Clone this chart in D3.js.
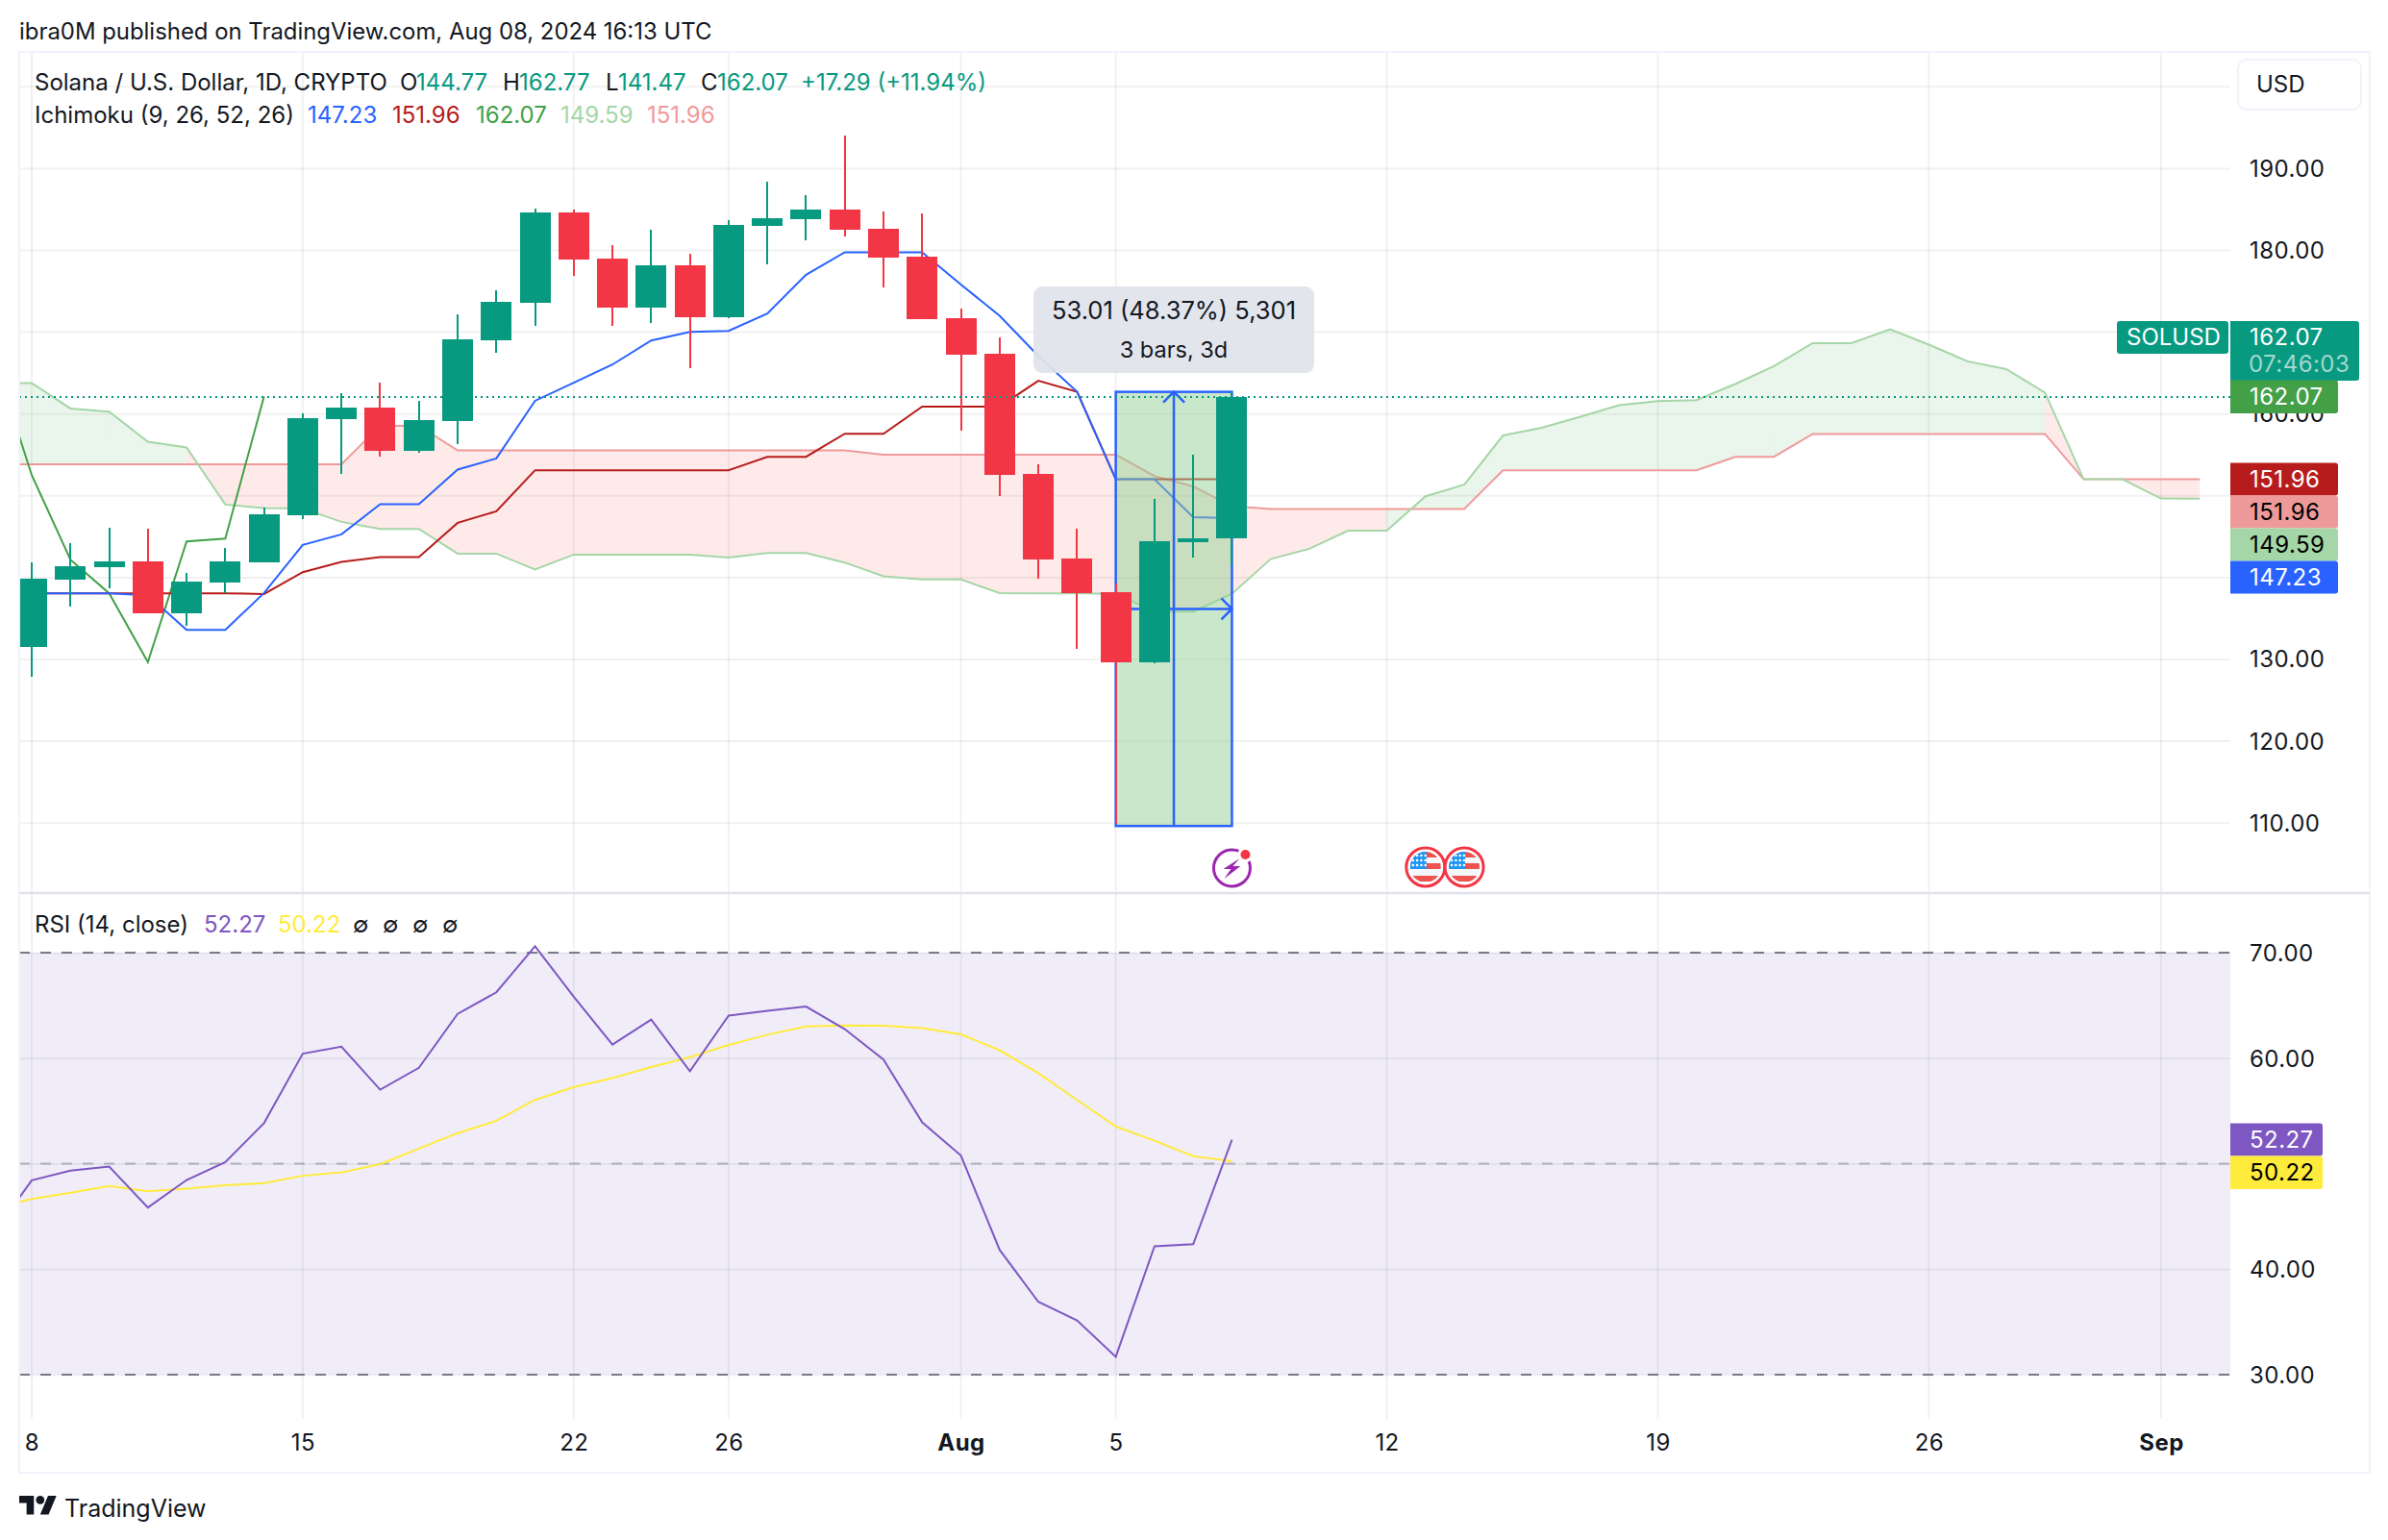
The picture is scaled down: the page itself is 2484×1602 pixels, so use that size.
<!DOCTYPE html>
<html>
<head>
<meta charset="utf-8">
<title>SOLUSD</title>
<script src="https://cdn.jsdelivr.net/npm/d3@7"></script>
<style>
  html, body { margin: 0; background: #fff; }
  text { font-family: Inter, "Noto Sans", sans-serif; fill: #131722; }
  .axis .domain { display: none; }
  .axis text { font-size: 24px; letter-spacing: 0.45px; }
</style>
</head>
<body>
<svg id="chart" width="2484" height="1602"></svg>
<script>
// days are counted from Jul 8, candles run Jul 8 .. Aug 8
const opens = [131.48,139.71,141.20,141.90,135.59,139.35,141.82,147.58,159.33,160.71,155.45,159.10,168.97,173.55,184.56,178.92,172.96,178.10,171.79,182.91,183.74,184.91,182.56,179.15,171.63,167.29,152.60,142.26,138.14,129.61,144.25,144.77];
const highs = [141.79,144.14,146.00,145.90,140.49,143.55,148.48,160.00,162.47,163.76,161.53,172.10,175.04,185.03,184.91,180.56,182.44,179.51,183.62,188.32,186.67,193.96,184.68,184.44,172.81,169.28,153.77,145.90,139.20,149.54,154.95,162.77];
const lows = [127.80,136.42,138.61,135.59,134.07,138.03,141.82,147.11,152.63,154.75,155.22,156.27,167.44,170.73,176.84,170.73,171.08,165.56,171.67,178.21,181.15,181.62,175.39,171.52,157.88,149.89,139.79,131.21,109.82,129.45,142.37,141.47];
const closes = [139.79,141.32,141.90,135.59,139.44,141.90,147.66,159.41,160.71,155.45,159.18,169.05,173.63,184.56,178.84,172.96,178.10,171.79,183.03,183.85,184.91,182.44,179.04,171.52,167.17,152.48,142.14,138.03,129.61,144.37,144.72,162.07];

const tenkan = [138.03,138.03,138.03,137.79,133.56,133.56,138.06,143.94,145.23,148.92,148.92,153.15,154.51,161.56,163.76,165.99,168.93,169.99,170.11,172.22,176.96,179.71,179.71,179.71,175.78,171.95,167.05,162.67,151.96,151.96,147.34,147.23];
const kijun = [138.03,138.03,138.03,138.03,138.03,138.03,137.94,140.61,141.87,142.46,142.46,146.64,148.05,153.07,153.07,153.07,153.07,153.07,153.07,154.71,154.71,157.53,157.53,160.86,160.86,160.86,164.00,162.67,151.96,151.96,151.96,151.96];
// lagging span, first value is Jul 7
const chikou = [167.17,152.48,142.14,138.03,129.61,144.37,144.72,162.07];
// leading spans, first value is Jul 7, last is Sep 2
const spanA = [163.76,163.73,160.62,160.24,156.56,155.85,148.87,148.45,148.40,146.76,145.90,145.90,142.88,142.88,140.93,142.76,142.76,142.76,142.76,142.41,142.96,142.96,141.79,140.11,139.71,139.71,138.06,138.03,138.03,137.97,135.79,135.79,137.97,142.21,143.47,145.69,145.69,149.89,151.30,157.32,158.27,159.61,161.02,161.53,161.65,163.61,165.79,168.61,168.61,170.31,168.43,166.38,165.44,162.56,151.96,151.96,149.61,149.59];
const spanB = [153.81,153.81,153.81,153.81,153.81,153.81,153.81,153.81,153.81,153.81,158.51,158.51,155.50,155.50,155.50,155.50,155.50,155.50,155.50,155.50,155.50,155.50,155.50,154.98,154.98,154.98,154.98,154.98,154.98,154.98,152.36,151.10,148.67,148.33,148.33,148.33,148.33,148.33,148.33,153.07,153.07,153.07,153.07,153.07,153.07,154.71,154.71,157.50,157.50,157.50,157.50,157.50,157.50,157.50,151.96,151.96,151.96,151.96];

// first value is Jul 7
const rsi = [43.30,48.42,49.33,49.73,45.84,48.45,50.14,53.84,60.43,61.09,57.01,59.08,64.20,66.24,70.60,65.83,61.28,63.66,58.77,64.04,64.48,64.89,62.75,59.87,53.91,50.77,41.83,36.90,35.15,31.69,42.17,42.36,52.27];
const rsiMa = [45.69,46.66,47.25,47.88,47.38,47.63,47.95,48.16,48.85,49.17,49.95,51.43,52.90,54.06,56.04,57.26,58.11,59.15,60.09,61.25,62.22,63.00,63.10,63.07,62.85,62.25,60.75,58.58,56.04,53.53,52.18,50.71,50.22];

const priceGrid = [110,120,130,140,150,160,170,180,190,200];
const priceLabels = [110,120,130,160,180,190];
const rsiGrid = [30,40,50,60,70];
const rsiLabels = [30,40,60,70];
const timeDays = [0,7,14,18,24,28,35,42,49,55];
const timeLabels = ["8","15","22","26","Aug","5","12","19","26","Sep"];
const flagDays = [36,37];
const earningsDay = 31;
const lastPrice = 162.07, rangeLow = 109.76, rangeHigh = 162.77;

const UP = "#089981", DOWN = "#f23645", BLUE = "#2962ff", DARKRED = "#b71c1c",
      SPAN_A = "#a5d6a7", SPAN_B = "#ef9a9a", LAG = "#43a047",
      PURPLE = "#7e57c2", YELLOW = "#ffeb3b", GRID = "#f0f3fa", INK = "#131722";
const LEFT = 20, PLOT_RIGHT = 2320, RIGHT = 2465, TOP = 54, DIVIDER = 929, PLOT_BOTTOM = 1476, BOTTOM = 1532;

const svg = d3.select("#chart");
const defs = svg.append("defs");
defs.append("clipPath").attr("id", "mainClip").append("rect")
    .attr("x", LEFT).attr("y", TOP).attr("width", PLOT_RIGHT - LEFT).attr("height", DIVIDER - TOP);
defs.append("clipPath").attr("id", "rsiClip").append("rect")
    .attr("x", LEFT).attr("y", DIVIDER).attr("width", PLOT_RIGHT - LEFT).attr("height", PLOT_BOTTOM - DIVIDER);

const x = d3.scaleLinear().domain([0, 55]).range([33, 2248]);
const y = d3.scaleLinear().domain([110, 190]).range([855.7, 174.9]);
const yRsi = d3.scaleLinear().domain([30, 70]).range([1430, 991]);

// page text
svg.append("text").attr("x", 20).attr("y", 41).style("font-size", "23.9px")
    .text("ibra0M published on TradingView.com, Aug 08, 2024 16:13 UTC");

// rsi band goes under the grid
svg.append("rect").attr("x", LEFT).attr("width", PLOT_RIGHT - LEFT)
    .attr("y", yRsi(70)).attr("height", yRsi(30) - yRsi(70)).attr("fill", "#f0edf8");

// grid
svg.append("g").attr("class", "grid")
    .attr("transform", `translate(${PLOT_RIGHT},0)`)
    .call(d3.axisLeft(y).tickValues(priceGrid).tickSize(PLOT_RIGHT - LEFT).tickFormat(""))
    .call(g => g.select(".domain").remove());
svg.append("g").attr("class", "grid")
    .attr("transform", `translate(${PLOT_RIGHT},0)`)
    .call(d3.axisLeft(yRsi).tickValues(rsiGrid).tickSize(PLOT_RIGHT - LEFT).tickFormat(""))
    .call(g => g.select(".domain").remove());
svg.append("g").attr("class", "grid")
    .selectAll("line").data(timeDays).join("line")
    .attr("x1", d => x(d)).attr("x2", d => x(d))
    .attr("y1", TOP).attr("y2", PLOT_BOTTOM);
svg.selectAll(".grid line")
    .attr("stroke", "#000").attr("stroke-opacity", 0.055).attr("stroke-width", 2);

// main pane
const main = svg.append("g").attr("clip-path", "url(#mainClip)");

const area = d3.area().x(d => x(d.day)).y0(d => y(d.a)).y1(d => y(d.b));
const cloudSegs = d3.range(1, spanA.length).map(i => [
    {day: i - 2, a: spanA[i - 1], b: spanB[i - 1]},
    {day: i - 1, a: spanA[i], b: spanB[i]}
]);
main.append("g").selectAll("path").data(cloudSegs).join("path")
    .attr("d", area)
    .attr("fill", d => d[1].a > d[1].b ? "rgba(67,160,71,0.11)" : "rgba(244,67,54,0.11)");

const line = d3.line().x(d => x(d[0])).y(d => y(d[1]));
function series(values, firstDay, color) {
    main.append("path")
        .attr("d", line(values.map((v, i) => [firstDay + i, v])))
        .attr("fill", "none").attr("stroke", color).attr("stroke-width", 2);
}
series(spanB, -1, SPAN_B);
series(spanA, -1, SPAN_A);
series(chikou, -1, LAG);
series(kijun, 0, DARKRED);
series(tenkan, 0, BLUE);

// date and price range tool
const boxL = x(28), boxR = x(31), boxT = y(rangeHigh) + 1, boxB = y(rangeLow) + 1.5;
const midX = (boxL + boxR) / 2, midY = (boxT + boxB) / 2;
const tool = main.append("g").attr("fill", "none").attr("stroke", BLUE).attr("stroke-width", 2.5);
tool.append("rect").attr("x", boxL).attr("y", boxT).attr("width", boxR - boxL).attr("height", boxB - boxT)
    .attr("fill", "rgba(147,207,149,0.5)");
tool.append("path").attr("d", `M${midX},${boxB}V${boxT}M${midX - 11},${boxT + 11}L${midX},${boxT}L${midX + 11},${boxT + 11}`);
tool.append("path").attr("d", `M${boxL},${midY}H${boxR}M${boxR - 11},${midY - 11}L${boxR},${midY}L${boxR - 11},${midY + 11}`);

// candles
const candle = main.append("g").attr("shape-rendering", "crispEdges")
    .selectAll("g").data(opens.map((o, i) => i)).join("g")
    .attr("fill", i => closes[i] >= opens[i] ? UP : DOWN);
candle.append("rect")
    .attr("x", i => Math.round(x(i)) - 1).attr("width", 2)
    .attr("y", i => y(highs[i])).attr("height", i => y(lows[i]) - y(highs[i]));
candle.append("rect")
    .attr("x", i => Math.round(x(i)) - 16).attr("width", 32)
    .attr("y", i => y(Math.max(opens[i], closes[i])))
    .attr("height", i => Math.abs(y(opens[i]) - y(closes[i])));

// last price line
main.append("line").attr("x1", LEFT).attr("x2", PLOT_RIGHT)
    .attr("y1", y(lastPrice)).attr("y2", y(lastPrice))
    .attr("shape-rendering", "crispEdges")
    .attr("stroke", UP).attr("stroke-width", 2).attr("stroke-dasharray", "2 4");

// range tool tooltip
const tip = svg.append("g");
tip.append("rect").attr("x", 1075).attr("y", 298).attr("width", 292).attr("height", 90).attr("rx", 9)
    .attr("fill", "#e0e3eb").attr("fill-opacity", 0.93);
tip.selectAll("text").data(["53.01 (48.37%) 5,301", "3 bars, 3d"]).join("text")
    .attr("x", 1221).attr("y", (d, i) => 332 + i * 40).attr("text-anchor", "middle")
    .style("font-size", (d, i) => i ? "23.5px" : "25.5px").text(d => d);

// event icons
const earn = svg.append("g").attr("transform", `translate(${x(earningsDay)},903)`);
earn.append("circle").attr("r", 19).attr("fill", "none").attr("stroke", "#9c27b0").attr("stroke-width", 3);
earn.append("path").attr("d", "M8,-10L-9,1H-1L-8,11L9,-2H1Z").attr("fill", "#9c27b0");
earn.append("circle").attr("cx", 14).attr("cy", -14).attr("r", 8).attr("fill", "#fff");
earn.append("circle").attr("cx", 14).attr("cy", -14).attr("r", 5).attr("fill", DOWN);

defs.append("clipPath").attr("id", "flagClip").append("circle").attr("r", 16);
const flag = svg.append("g").selectAll("g").data(flagDays).join("g")
    .attr("transform", d => `translate(${x(d)},902)`);
flag.append("circle").attr("r", 20).attr("fill", "#fff").attr("stroke", DOWN).attr("stroke-width", 3);
const flagInner = flag.append("g").attr("clip-path", "url(#flagClip)");
flagInner.append("rect").attr("x", -16).attr("y", -16).attr("width", 32).attr("height", 32).attr("fill", "#f5f6fa");
flagInner.selectAll(".stripe").data([-16, -4, 9]).join("rect").attr("class", "stripe")
    .attr("x", -16).attr("y", d => d).attr("width", 32).attr("height", 6).attr("fill", "#ef5350");
flagInner.append("rect").attr("x", -16).attr("y", -16).attr("width", 17).attr("height", 18).attr("fill", "#2196f3");
flagInner.selectAll(".star").data(d3.range(12)).join("circle").attr("class", "star")
    .attr("cx", i => -13 + (i % 4) * 4.3).attr("cy", i => -12 + Math.floor(i / 4) * 5)
    .attr("r", 1.3).attr("fill", "#fff");

// rsi pane
const rsiPane = svg.append("g").attr("clip-path", "url(#rsiClip)");
rsiPane.selectAll("line").data([70, 50, 30]).join("line")
    .attr("x1", LEFT).attr("x2", PLOT_RIGHT)
    .attr("y1", d => yRsi(d)).attr("y2", d => yRsi(d))
    .attr("stroke", "#787b86").attr("stroke-width", 2)
    .attr("stroke-opacity", d => d === 50 ? 0.5 : 1)
    .attr("stroke-dasharray", "11 11");
const rsiLine = d3.line().x((d, i) => x(i - 1)).y(d => yRsi(d));
rsiPane.append("path").attr("d", rsiLine(rsiMa)).attr("fill", "none").attr("stroke", YELLOW).attr("stroke-width", 2);
rsiPane.append("path").attr("d", rsiLine(rsi)).attr("fill", "none").attr("stroke", PURPLE).attr("stroke-width", 2);

// frame
svg.append("rect").attr("x", LEFT).attr("y", TOP).attr("width", RIGHT - LEFT).attr("height", BOTTOM - TOP)
    .attr("fill", "none").attr("stroke", GRID).attr("stroke-width", 2);
svg.append("line").attr("x1", LEFT).attr("x2", RIGHT).attr("y1", DIVIDER).attr("y2", DIVIDER)
    .attr("stroke", "#e0e3eb").attr("stroke-width", 2.5);

// axes
svg.append("g").attr("class", "axis").attr("transform", `translate(${PLOT_RIGHT},0.8)`)
    .call(d3.axisRight(y).tickValues(priceLabels).tickFormat(d3.format(".2f")).tickSize(0).tickPadding(20));
svg.append("g").attr("class", "axis").attr("transform", `translate(${PLOT_RIGHT},0.8)`)
    .call(d3.axisRight(yRsi).tickValues(rsiLabels).tickFormat(d3.format(".2f")).tickSize(0).tickPadding(20));
const timeAxis = d3.axisBottom(x).tickValues(timeDays).tickFormat((d, i) => timeLabels[i]).tickSize(0).tickPadding(0);
svg.append("g").attr("class", "axis").attr("transform", "translate(0,1492)")
    .call(timeAxis)
    .selectAll("text")
    .style("font-weight", (d, i) => isNaN(timeLabels[i]) ? 700 : 400);

// USD button
svg.append("rect").attr("x", 2328).attr("y", 62).attr("width", 128).attr("height", 52).attr("rx", 9)
    .attr("fill", "#fff").attr("stroke", GRID).attr("stroke-width", 2);
svg.append("text").attr("x", 2347).attr("y", 96).style("font-size", "24px").text("USD");

// price tags
function tag(y0, h, w, bg, fg, value) {
    svg.append("path")
        .attr("d", `M${PLOT_RIGHT},${y0}h${w - 3}a3,3 0 0 1 3,3v${h - 6}a3,3 0 0 1 -3,3h${-(w - 3)}z`)
        .attr("fill", bg);
    svg.append("text").attr("x", 2340).attr("y", y0 + 25).style("font-size", "24px")
        .style("letter-spacing", "0.45px").style("fill", fg).text(value);
}
tag(334, 62, 134, UP, "#fff", d3.format(".2f")(closes[31]));
svg.append("text").attr("x", 2339).attr("y", 387).style("font-size", "24px").style("letter-spacing", "0.45px").style("fill", "#a3d8cd").text("07:46:03");
tag(395.5, 34.5, 112, LAG, "#fff", d3.format(".2f")(closes[31]));
tag(481.5, 34, 112, DARKRED, "#fff", d3.format(".2f")(kijun[31]));
tag(515.5, 34, 112, SPAN_B, "#000", d3.format(".2f")(spanB[57]));
tag(549.5, 34, 112, SPAN_A, "#000", d3.format(".2f")(spanA[57]));
tag(583.5, 34, 112, BLUE, "#fff", d3.format(".2f")(tenkan[31]));
tag(1168.5, 34, 96, PURPLE, "#fff", d3.format(".2f")(rsi[32]));
tag(1202.5, 34.5, 96, YELLOW, "#000", d3.format(".2f")(rsiMa[32]));

svg.append("rect").attr("x", 2202).attr("y", 334).attr("width", 116).attr("height", 34).attr("rx", 3).attr("fill", UP);
svg.append("text").attr("x", 2212).attr("y", 359).style("font-size", "24px").style("fill", "#fff").text("SOLUSD");

// legends
function legend(row, baseline) {
    svg.append("g").selectAll("text").data(row).join("text")
        .attr("x", d => d[0]).attr("y", baseline)
        .style("font-size", "24px").style("fill", d => d[2]).text(d => d[1]);
}
legend([[36, "Solana / U.S. Dollar, 1D, CRYPTO", INK], [416, "O", INK], [433, "144.77", UP],
    [523, "H", INK], [540, "162.77", UP], [630, "L", INK], [643, "141.47", UP],
    [729, "C", INK], [746, "162.07", UP], [833, "+17.29 (+11.94%)", UP]], 94);
legend([[36, "Ichimoku (9, 26, 52, 26)", INK], [320, "147.23", BLUE], [408, "151.96", DARKRED],
    [495, "162.07", LAG], [583, "149.59", SPAN_A], [673, "151.96", SPAN_B]], 128);
legend([[36, "RSI (14, close)", INK], [212, "52.27", PURPLE], [289, "50.22", YELLOW],
    [367, "∅", INK], [398, "∅", INK], [429, "∅", INK], [460, "∅", INK]], 970);

// TradingView logo
const logo = svg.append("g").attr("transform", "translate(20,1551.6) scale(1.09)").attr("fill", INK);
logo.append("path").attr("d", "M14 22H7V11H0V4h14v18zM28 22h-8l7.5-18h8L28 22z");
logo.append("circle").attr("cx", 20).attr("cy", 8).attr("r", 4);
svg.append("text").attr("x", 67).attr("y", 1577.5).style("font-size", "25px").text("TradingView");
</script>
</body>
</html>
